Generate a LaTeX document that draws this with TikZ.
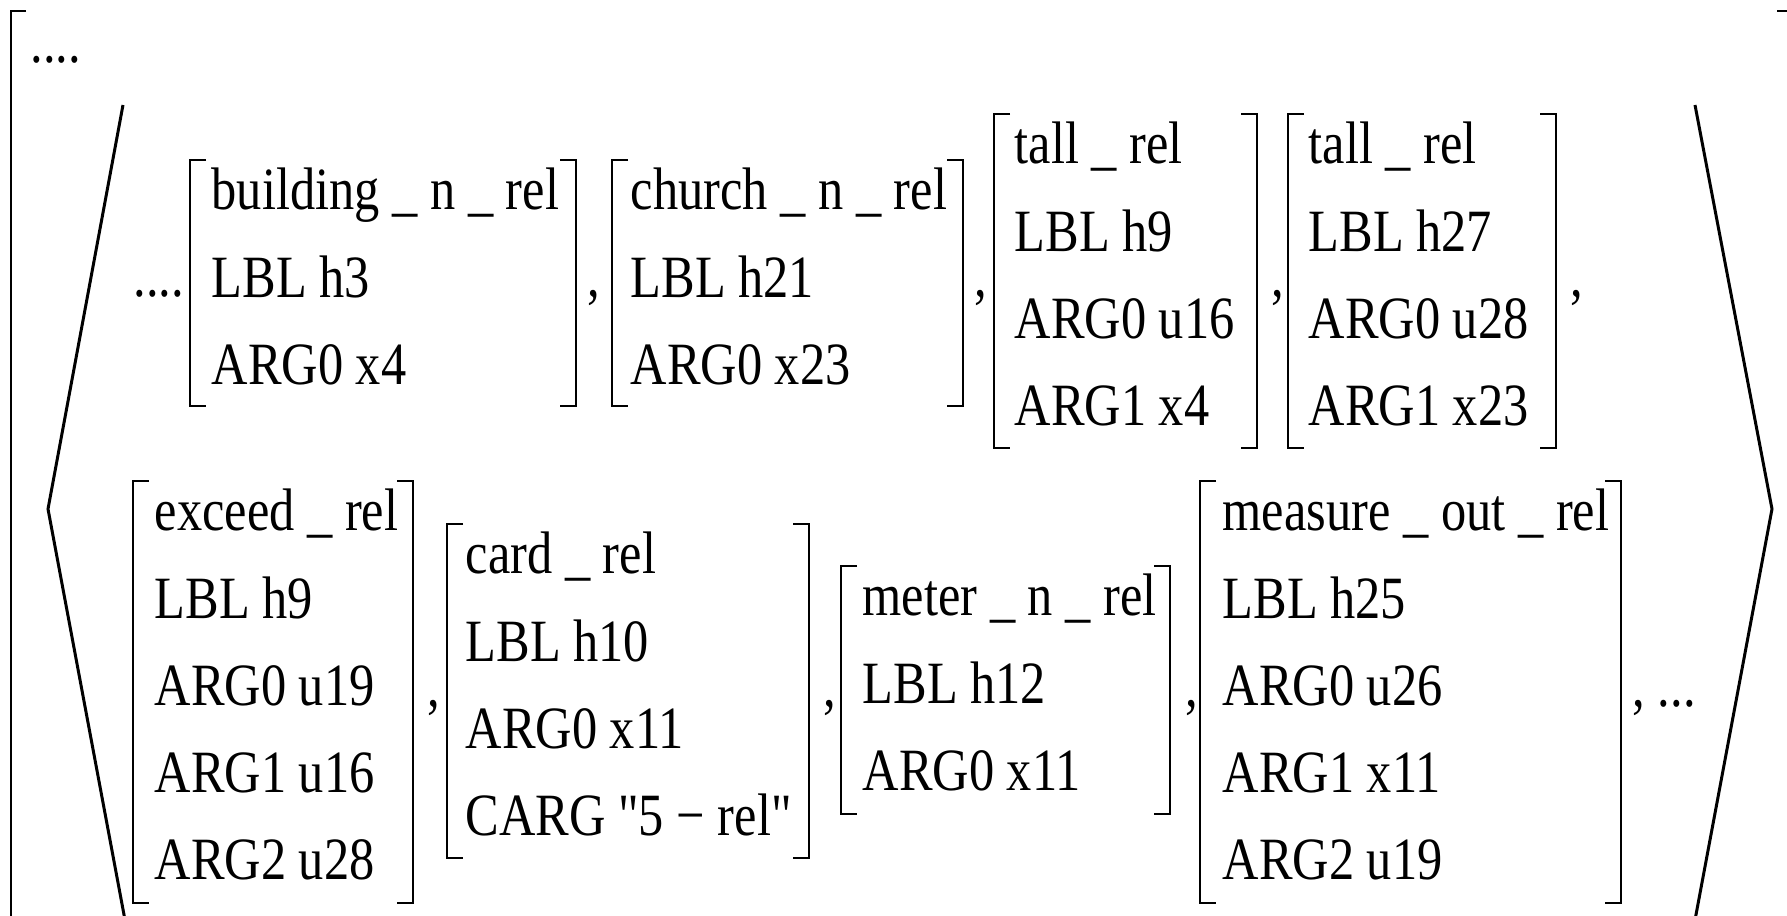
\documentclass[tikz,border=0pt]{standalone}
\usepackage{fontspec}
\setmainfont[FakeStretch=0.84, Ligatures=TeXOff]{Liberation Serif}

\tikzset{
  avm/.style={anchor=base west, inner sep=0pt, font=\fontsize{17.07pt}{24.75pt}\selectfont},
  sep/.style={anchor=base west, inner sep=0pt, font=\fontsize{17.07pt}{24.75pt}\selectfont},
  brk/.style={line width=0.6pt},
  ang/.style={line width=0.85pt}
}
\newcommand{\rows}[1]{\begin{tabular}[t]{@{}l@{}}#1\end{tabular}}

\begin{document}
\begin{tikzpicture}[x=0.01cm, y=-0.01cm]
    \useasboundingbox (0,0) rectangle (1787,916);

    % Outer bracket
    \draw[brk] (26,11) -- (11,11) -- (11,920);
    \draw[brk] (1777,11) -- (1792,11) -- (1792,920);
    \node[sep] (dots0) at (30,63) {....};

    % Angle brackets
    \draw[ang] (123,105) -- (48,509) -- (125,920);
    \draw[ang] (1695,105) -- (1772,509) -- (1695,920);

    % Row 1
    \node[sep] (dots1) at (133,297) {....};
    \node[avm] (building) at (211,210) {\rows{building \_ n \_ rel\\ LBL h3\\ ARG0 x4}};
    \node[sep] (c1) at (587,297) {,};
    \node[avm] (church) at (630,210) {\rows{church \_ n \_ rel\\ LBL h21\\ ARG0 x23}};
    \node[sep] (c2) at (974,297) {,};
    \node[avm] (tallA) at (1014,164) {\rows{tall \_ rel\\ LBL h9\\ ARG0 u16\\ ARG1 x4}};
    \node[sep] (c3) at (1271,297) {,};
    \node[avm] (tallB) at (1308,164) {\rows{tall \_ rel\\ LBL h27\\ ARG0 u28\\ ARG1 x23}};
    \node[sep] (c4) at (1570,297) {,};

    % Row 2
    \node[avm] (exceed) at (154,531) {\rows{exceed \_ rel\\ LBL h9\\ ARG0 u19\\ ARG1 u16\\ ARG2 u28}};
    \node[sep] (c5) at (427,707) {,};
    \node[avm] (card) at (465,574) {\rows{card \_ rel\\ LBL h10\\ ARG0 x11\\ CARG "5 − rel"}};
    \node[sep] (c6) at (823,707) {,};
    \node[avm] (meter) at (862,616) {\rows{meter \_ n \_ rel\\ LBL h12\\ ARG0 x11}};
    \node[sep] (c7) at (1185,707) {,};
    \node[avm] (measure) at (1222,531) {\rows{measure \_ out \_ rel\\ LBL h25\\ ARG0 u26\\ ARG1 x11\\ ARG2 u19}};
    \node[sep] (dots2) at (1632,707) {, ...};

    % Brackets round each feature structure
    \foreach \xl/\xr/\yt/\yb in {190/576/160/406, 612/963/160/406, 994/1257/114/448, 1288/1556/114/448,
                                 133/413/481/903, 447/809/524/858, 841/1170/566/814, 1200/1621/481/903} {
        \draw[brk] (\xl+16,\yt) -- (\xl,\yt) -- (\xl,\yb) -- (\xl+16,\yb);
        \draw[brk] (\xr-16,\yt) -- (\xr,\yt) -- (\xr,\yb) -- (\xr-16,\yb);
    }
\end{tikzpicture}
\end{document}
